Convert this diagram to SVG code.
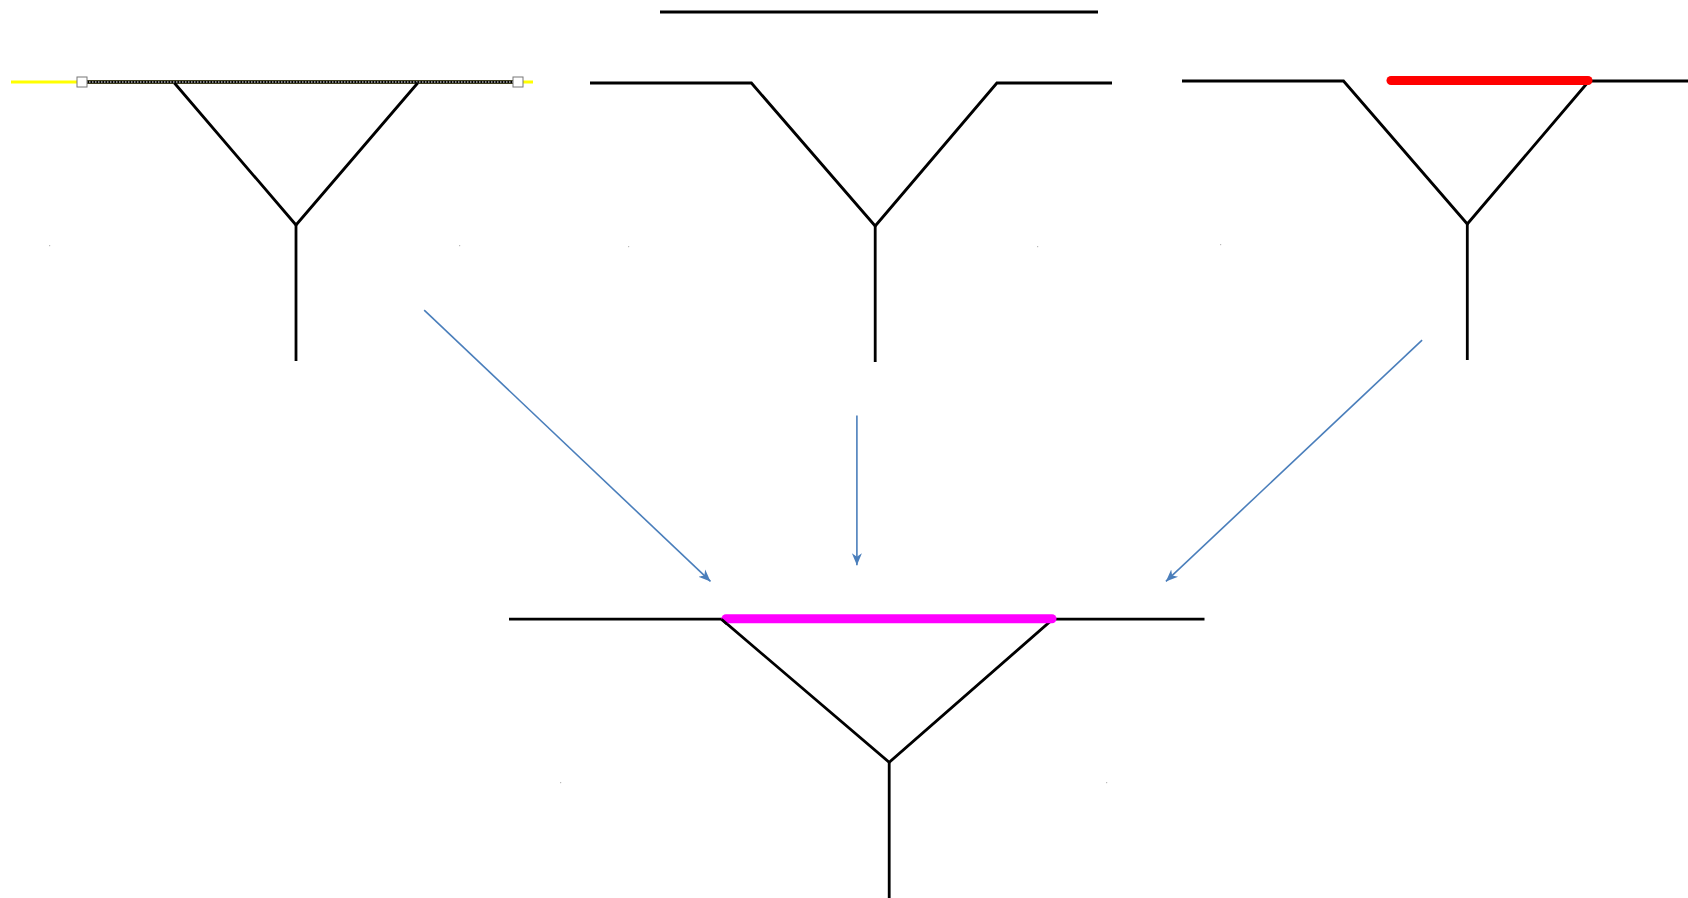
<svg xmlns="http://www.w3.org/2000/svg" width="1688" height="898" viewBox="0 0 1688 898">
<style>
.ln{fill:none;stroke:#000;stroke-width:2.8;stroke-linejoin:miter}
.arr{fill:none;stroke:#4a7ebb;stroke-width:1.6;marker-end:url(#ah)}
.dot{fill:#bbb}
</style>
<defs>
<marker id="ah" markerUnits="userSpaceOnUse" markerWidth="14" markerHeight="12" refX="12" refY="5" orient="auto" viewBox="0 0 14 10">
<path d="M0,0 L12,5 L0,10 L3.5,5 z" fill="#4a7ebb"/>
</marker>
</defs>
<rect width="1688" height="898" fill="#fff"/>
<g id="node-top-left">
<line x1="11" y1="82" x2="533" y2="82" stroke="#ffff00" stroke-width="3"/>
<line x1="86" y1="82" x2="514" y2="82" stroke="#000" stroke-width="3.6"/>
<line x1="86" y1="82" x2="514" y2="82" stroke="#fff" stroke-width="1.2" stroke-dasharray="1.5 1.5"/>
<rect x="77" y="77" width="10" height="10" fill="#fff" stroke="#777" stroke-width="1"/>
<rect x="513" y="77" width="10" height="10" fill="#fff" stroke="#777" stroke-width="1"/>
<polyline class="ln" points="174.4,83 296,225 417.7,83"/>
<line class="ln" x1="296" y1="225" x2="296" y2="361"/>
<rect class="dot" x="49" y="245" width="1.2" height="1.2"/>
<rect class="dot" x="459" y="245" width="1.2" height="1.2"/>
</g>
<g id="node-top-middle">
<line class="ln" x1="660" y1="12" x2="1098" y2="12" stroke-width="3.4"/>
<polyline class="ln" points="590,83 751.4,83 875.2,226 996.9,83 1112,83"/>
<line class="ln" x1="875.2" y1="226" x2="875.2" y2="362"/>
<rect class="dot" x="628" y="246" width="1.2" height="1.2"/>
<rect class="dot" x="1037" y="246" width="1.2" height="1.2"/>
</g>
<g id="node-top-right">
<polyline class="ln" points="1182,81 1343.5,81 1467.3,224 1589,81 1688,81"/>
<line class="ln" x1="1467.3" y1="224" x2="1467.3" y2="360"/>
<line x1="1391" y1="80.5" x2="1588" y2="80.5" stroke="#ff0000" stroke-width="9" stroke-linecap="round"/>
<rect class="dot" x="1220" y="244" width="1.2" height="1.2"/>
</g>
<g id="node-bottom">
<polyline class="ln" points="509,619.2 721.5,619.2 889.2,762.3 1052.8,619.2 1204.5,619.2"/>
<line class="ln" x1="889.2" y1="762.3" x2="889.2" y2="898"/>
<line x1="726" y1="618.7" x2="1052" y2="618.7" stroke="#ff00ff" stroke-width="9" stroke-linecap="round"/>
<polyline class="ln" points="721.5,619.2 727,624"/>
<rect class="dot" x="560" y="782" width="1.2" height="1.2"/>
<rect class="dot" x="1106" y="782" width="1.2" height="1.2"/>
</g>
<g id="connectors">
<line class="arr" x1="424.2" y1="310.1" x2="710.5" y2="581.4"/>
<line class="arr" x1="856.9" y1="415.6" x2="856.9" y2="565.3"/>
<line class="arr" x1="1422.1" y1="340.2" x2="1165.9" y2="581.4"/>
</g>
</svg>
